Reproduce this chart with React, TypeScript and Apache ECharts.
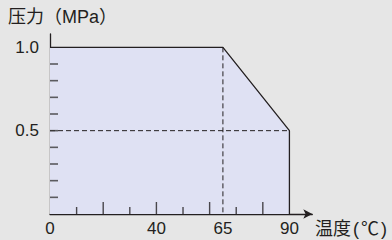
import React, { useEffect, useRef } from "react";
import * as echarts from "echarts";

const boundaryTemp = [0, 65, 90, 90];
const boundaryPressure = [1.0, 1.0, 0.5, 0];
const guideVertical = [[65, 1.0], [65, 0]];
const guideHorizontal = [[0, 0.5], [90, 0.5]];
const xMinorTicks = [10, 30, 50, 70];
const xMajorTicks = [20, 40, 60, 80];
const xLabels = [0, 40, 65, 90];
const yTicks = [0.1, 0.2, 0.3, 0.4, 0.5, 0.6, 0.7, 0.8, 0.9];
const yLabels = [0.5, 1.0];
const yTitle = "压力（MPa）";
const xTitleParts = ["温度", "(", "℃", ")"];

const INK = "#231f20";
const FONT = "'Liberation Sans', 'Noto Sans CJK JP', sans-serif";

export default function App() {
  const ref = useRef<HTMLDivElement>(null);
  useEffect(() => {
    const chart = echarts.init(ref.current!, null, { renderer: "svg" });
    chart.setOption({
      animation: false,
      backgroundColor: "#e6e6e6",
      grid: { left: 50, right: 79.7, top: 34, bottom: 26 },
      xAxis: {
        type: "value",
        min: 0,
        max: 98.6,
        splitLine: { show: false },
        axisLine: { show: true, symbol: ["none", "arrow"], symbolSize: [7, 9], lineStyle: { color: INK, width: 1.3 } },
        axisTick: { show: false },
        axisLabel: { show: true, customValues: xLabels, margin: 6, color: INK, fontSize: 17, fontFamily: FONT },
      },
      yAxis: {
        type: "value",
        min: 0,
        max: 1.08,
        splitLine: { show: false },
        axisLine: { show: true, lineStyle: { color: INK, width: 1.3 } },
        axisTick: { show: false },
        axisLabel: { show: true, customValues: yLabels, margin: 11, color: INK, fontSize: 17, fontFamily: FONT, formatter: (v: number) => v.toFixed(1) },
      },
      graphic: [
        { type: "text", left: 8, top: 8, style: { text: yTitle, fill: INK, font: `18px ${FONT}` } },
        {
          type: "text",
          x: 315,
          y: 229,
          style: {
            text: `{c|${xTitleParts[0]}}{p|${xTitleParts[1]}}{c|${xTitleParts[2]}}{p|${xTitleParts[3]}}`,
            verticalAlign: "middle",
            rich: {
              c: { fill: INK, fontSize: 18, fontFamily: FONT },
              p: { fill: INK, fontSize: 18, fontFamily: FONT, padding: [0, 2] },
            },
          },
        },
      ],
      series: [
        {
          type: "line",
          data: boundaryTemp.map((t, i) => [t, boundaryPressure[i]]),
          symbol: "none",
          lineStyle: { color: INK, width: 1.3 },
          areaStyle: { color: "#dfe1f3", opacity: 1 },
          z: 1,
        },
        {
          type: "line",
          data: guideVertical,
          symbol: "none",
          lineStyle: { color: INK, width: 1, type: [5, 3] },
          z: 2,
        },
        {
          type: "line",
          data: guideHorizontal,
          symbol: "none",
          lineStyle: { color: INK, width: 1, type: [5, 3] },
          z: 2,
        },
        {
          type: "scatter",
          data: xMinorTicks.map((v) => [v, 0]),
          symbol: "rect",
          symbolSize: [1.4, 7],
          symbolOffset: [0, -3.5],
          itemStyle: { color: INK },
          silent: true,
          z: 3,
        },
        {
          type: "scatter",
          data: xMajorTicks.map((v) => [v, 0]),
          symbol: "rect",
          symbolSize: [1.4, 12],
          symbolOffset: [0, -6],
          itemStyle: { color: INK },
          silent: true,
          z: 3,
        },
        {
          type: "scatter",
          data: yTicks.map((v) => [0, v]),
          symbol: "rect",
          symbolSize: [8, 1.6],
          symbolOffset: [4, 0],
          itemStyle: { color: "#3a3a3a" },
          silent: true,
          z: 3,
        },
      ],
    });
    return () => chart.dispose();
  }, []);
  return <div ref={ref} style={{ position: "absolute", left: 0, top: 0, width: 392, height: 240 }} />;
}
